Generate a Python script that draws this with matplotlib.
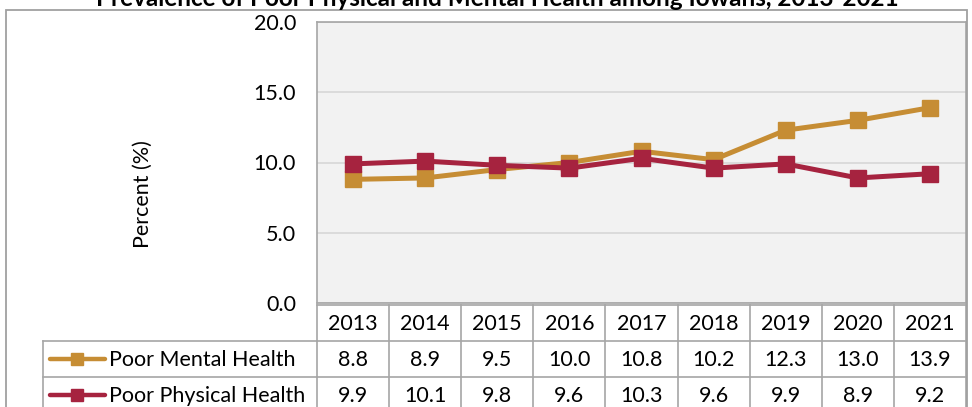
import matplotlib
matplotlib.use("Agg")
import matplotlib.pyplot as plt
from matplotlib.patches import Rectangle
from matplotlib.lines import Line2D
import matplotlib.transforms as mtransforms

years = ["2013", "2014", "2015", "2016", "2017", "2018", "2019", "2020", "2021"]
mental = [8.8, 8.9, 9.5, 10.0, 10.8, 10.2, 12.3, 13.0, 13.9]
physical = [9.9, 10.1, 9.8, 9.6, 10.3, 9.6, 9.9, 8.9, 9.2]
series_names = ["Poor Mental Health", "Poor Physical Health"]
series_colors = ["#C68D34", "#A6233F"]
title = "Prevalence of Poor Physical and Mental Health among Iowans, 2013-2021"

plt.rcParams['font.family'] = ['Lato', 'DejaVu Sans']

W, H = 972, 407
fig = plt.figure(figsize=(W / 100, H / 100), dpi=100)

def fx(px):
    return px / W

def fy(py):
    return 1 - py / H

fs = 15.5

# plot area
ax = fig.add_axes([fx(317), fy(303), fx(966) - fx(317), fy(22) - fy(303)])
ax.set_facecolor("#F2F2F2")
ax.set_xlim(-0.5, len(years) - 0.5)
ax.set_ylim(0, 20)
ax.set_yticks([0, 5, 10, 15, 20])
ax.set_yticklabels(["%.1f" % v for v in [0, 5, 10, 15, 20]], fontsize=fs)
ax.tick_params(axis="y", length=0, pad=15)
ax.set_xticks([])
ax.grid(axis="y", color="#D9D9D9", lw=1.3)
ax.set_axisbelow(True)
for s in ax.spines.values():
    s.set_color("#A6A6A6")
    s.set_linewidth(1.2)

x = list(range(len(years)))
for vals, c in zip([mental, physical], series_colors):
    ax.plot(x, vals, color=c, lw=3.6, marker="s", markersize=12,
            solid_joinstyle="miter", zorder=3)

fig.text(fx(143), fy(194), "Percent (%)", rotation=90, fontsize=fs,
         ha="center", va="center")

# data table below the axes, x in data units, y in figure pixels
trans = mtransforms.blended_transform_factory(ax.transData, fig.transFigure)
tcol = "#A6A6A6"
row_top = [305, 341, 377]
row_h = 36
for i in range(len(years) + 1):
    ax.add_line(Line2D([i - 0.5, i - 0.5], [fy(305), fy(H + 5)], transform=trans,
                       color=tcol, lw=1.2, clip_on=False))
for yy in row_top + [row_top[-1] + row_h]:
    ax.add_line(Line2D([-0.5, len(years) - 0.5], [fy(yy), fy(yy)], transform=trans,
                       color=tcol, lw=1.2, clip_on=False))
for i, yr in enumerate(years):
    ax.text(i, fy(row_top[0] + row_h / 2 + 1), yr, transform=trans, fontsize=fs,
            ha="center", va="center")
for r, vals in enumerate([mental, physical]):
    yc = fy(row_top[r + 1] + row_h / 2 + 1)
    for i, v in enumerate(vals):
        ax.text(i, yc, "%.1f" % v, transform=trans, fontsize=fs,
                ha="center", va="center")

# legend column of the table
fig.add_artist(Line2D([fx(43), fx(317)], [fy(341), fy(341)], color=tcol, lw=1.2))
fig.add_artist(Line2D([fx(43), fx(317)], [fy(377), fy(377)], color=tcol, lw=1.2))
fig.add_artist(Line2D([fx(43), fx(43)], [fy(341), fy(H + 5)], color=tcol, lw=1.2))
for r, (name, c) in enumerate(zip(series_names, series_colors)):
    yc = fy(row_top[r + 1] + row_h / 2)
    fig.add_artist(Line2D([fx(50), fx(105)], [yc, yc], color=c, lw=3.2,
                          solid_capstyle="round"))
    fig.add_artist(Line2D([fx(77)], [yc], color=c, marker="s", markersize=9,
                          lw=0))
    fig.text(fx(109), fy(row_top[r + 1] + row_h / 2 + 1), name, fontsize=fs,
             ha="left", va="center")

# outer chart border
fig.add_artist(Rectangle((fx(6), fy(H + 5)), fx(967) - fx(6), fy(10) - fy(H + 5),
                         fill=False, ec="#A0A0A0", lw=1.3))

# title is clipped by the top edge, as in the source image
fig.text(fx(497), fy(6), title, fontsize=17.5, fontweight="bold",
         ha="center", va="baseline")

fig.savefig("out.png", dpi=100)
